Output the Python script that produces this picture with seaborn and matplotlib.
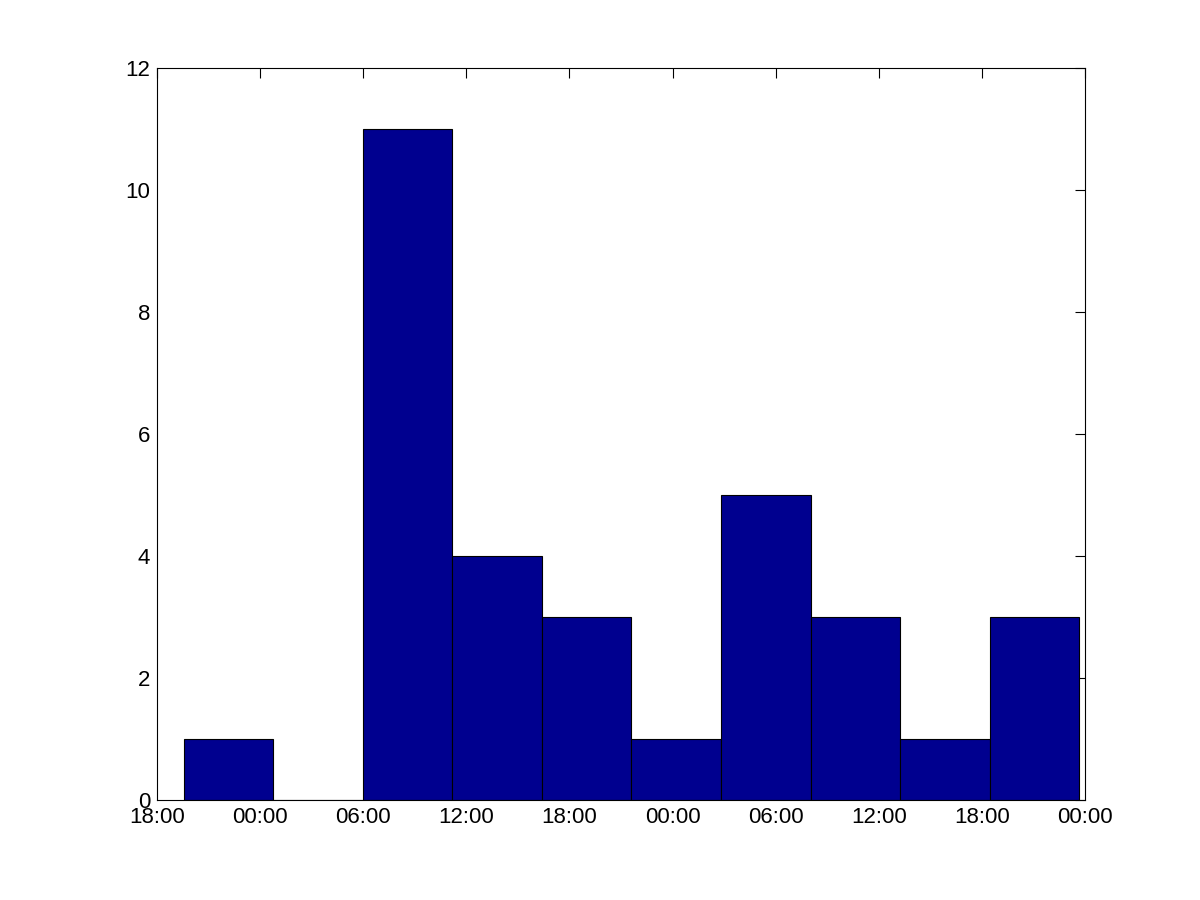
import numpy as np
import pandas as pd
import seaborn as sns
import matplotlib.pyplot as plt
from matplotlib.ticker import FuncFormatter, MultipleLocator

# ---------- data (hours counted from 18:00 on day 0) ----------
bin_start = 1.57       # first bin edge, hours after 18:00
bin_width = 5.208      # hours per bin
counts = [1, 0, 11, 4, 3, 1, 5, 3, 1, 3]
x_min, x_max = 0, 54
tick_step = 6

n_bins = len(counts)
centers = bin_start + bin_width * (np.arange(n_bins) + 0.5)
df = pd.DataFrame({"hours": centers, "count": counts})

sns.set_style("white")
plt.rcParams["font.family"] = ["Liberation Sans", "DejaVu Sans"]

fig = plt.figure(figsize=(12, 9), dpi=100)
ax = fig.add_axes([0.1308, 0.111, 0.7734, 0.8134])

sns.histplot(data=df, x="hours", weights="count", bins=n_bins,
             binrange=(bin_start, bin_start + n_bins * bin_width),
             color="#00008F", alpha=1, edgecolor="black", linewidth=0.8, ax=ax)

ax.set_xlim(x_min, x_max)
ax.set_ylim(0, 12)
ax.xaxis.set_major_locator(MultipleLocator(tick_step))
ax.yaxis.set_major_locator(MultipleLocator(2))


def fmt(h, pos):
    return "%02d:00" % ((18 + int(round(h))) % 24)


ax.xaxis.set_major_formatter(FuncFormatter(fmt))
ax.set_xlabel("")
ax.set_ylabel("")
ax.tick_params(direction="in", top=True, right=True, length=7, width=0.8,
               labelsize=16, colors="black", pad=5)
for s in ax.spines.values():
    s.set_visible(True)
    s.set_color("black")
    s.set_linewidth(0.8)

fig.savefig("out.png", dpi=100)
